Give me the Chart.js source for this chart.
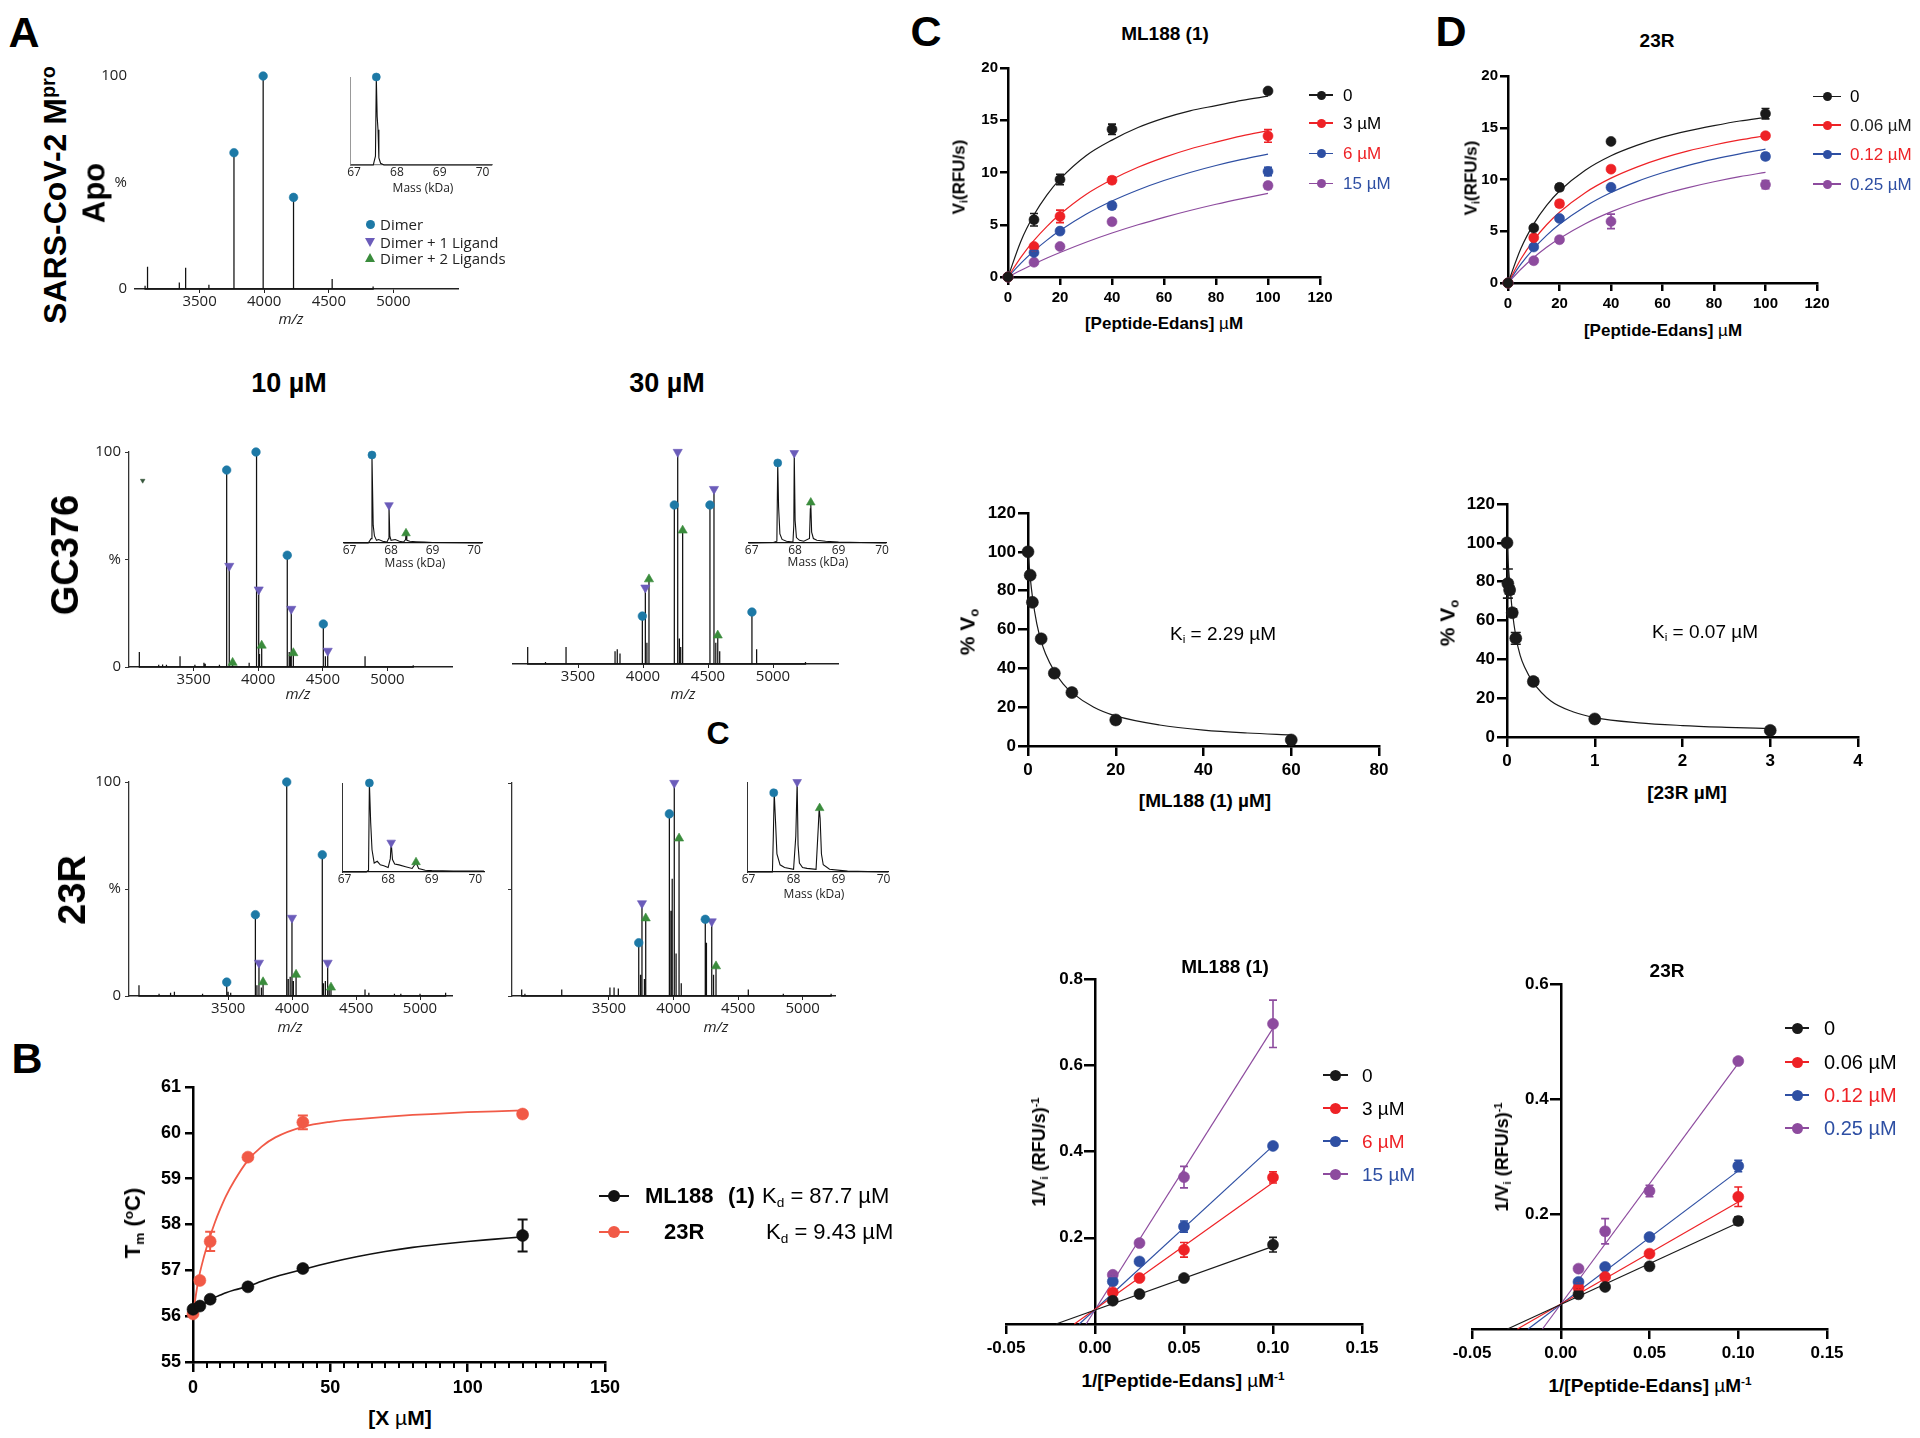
<!DOCTYPE html>
<html>
<head>
<meta charset="utf-8">
<title>Mpro binding figure</title>
<script src="https://cdn.jsdelivr.net/npm/chart.js@4.4.1/dist/chart.umd.min.js"></script>
<style>
html,body{margin:0;padding:0;background:#fff;}
#stage{position:relative;width:1920px;height:1438px;overflow:hidden;background:#fff;font-family:'Liberation Sans',Arial,sans-serif;color:#000;}
#stage canvas{position:absolute;}
.tc,.tl,.tv{position:absolute;white-space:nowrap;line-height:1;}
.tc{transform:translate(-50%,-50%);}
.tl{transform:translate(0,-50%);}
.tv{transform:translate(-50%,-50%) rotate(-90deg);}
.sh{position:absolute;}
sub{font-size:0.62em;vertical-align:-0.3em;line-height:0;}
sup{font-size:0.62em;vertical-align:0.55em;line-height:0;}
.ms{font-family:'Open Sans',sans-serif;color:#222;}
.u{font-weight:normal;}
</style>
</head>
<body>
<div id="stage"></div>
<script>
// ======================= DATA =======================
// ---- Panel A: native MS (m/z vs relative intensity %) ----
const msTickLabels = [3500, 4000, 4500, 5000];
const insetTickLabels = [67, 68, 69, 70];

const apoDimerMz = [3766, 3992, 4227];
const apoDimerInt = [64, 100, 43];
const apoMinorMz = [3078, 3097, 3343, 3392, 3572, 4526, 4843];
const apoMinorInt = [1.5, 10.5, 3, 10, 2, 4.7, 1.2];
const apoInsetMass = [66.92, 67.45, 67.5, 67.52, 67.54, 67.56, 67.58, 67.62, 67.7, 70.22];
const apoInsetInt = [0, 0, 10, 100, 55, 40, 8, 2, 0, 0];
const apoInsetDimerMass = [67.52];
const apoInsetDimerInt = [100];

const gc10DimerMz = [3756, 3983, 4225, 4504];
const gc10DimerInt = [91.6, 100, 52, 20];
const gc10Lig1Mz = [3776, 4004, 4256, 4538];
const gc10Lig1Int = [47, 36, 27, 7.5];
const gc10Lig2Mz = [3802, 4027, 4272];
const gc10Lig2Int = [2, 10, 6.5];
const gc10StrayMz = [3106];
const gc10StrayInt = [86.7];
const gc10MinorMz = [3080, 3230, 3260, 3290, 3395, 3510, 3580, 3590, 3700, 3930, 3990, 4010, 4240, 4250, 4520, 4827, 5200];
const gc10MinorInt = [7, 1, 1.2, 1, 5, 1, 2, 1.5, 1, 2, 8, 6, 7, 5, 5, 5, 0.8];
const gc10InsetMass = [66.86, 67.45, 67.52, 67.54, 67.555, 67.57, 67.6, 67.65, 67.7, 67.8, 67.9, 67.94, 67.95, 67.97, 68.0, 68.1, 68.2, 68.3, 68.35, 68.36, 68.38, 68.45, 68.6, 68.8, 69.0, 70.19];
const gc10InsetInt = [0, 0, 5, 100, 60, 20, 8, 3, 4, 2, 1, 5, 43, 8, 3, 4, 2, 1, 4, 11, 3, 2, 1.5, 1, 0.5, 0];
const gc10InsetMarkMass = [67.54, 67.95, 68.36];
const gc10InsetMarkInt = [100, 43, 11];

const gc30DimerMz = [3995, 4241, 4515, 4838];
const gc30DimerInt = [22.6, 75, 75, 24.5];
const gc30Lig1Mz = [4018, 4267, 4546];
const gc30Lig1Int = [36, 100, 82.5];
const gc30Lig2Mz = [4046, 4305, 4575];
const gc30Lig2Int = [40, 63, 13.5];
const gc30MinorMz = [3113, 3250, 3408, 3785, 3802, 3823, 4030, 4280, 4290, 4560, 4590, 4874, 5250];
const gc30MinorInt = [8, 1, 8, 6, 7, 5, 10, 12, 8, 10, 6, 7, 1];
const gc30InsetMass = [66.93, 67.5, 67.58, 67.6, 67.62, 67.65, 67.7, 67.8, 67.95, 67.97, 67.98, 68.0, 68.03, 68.1, 68.2, 68.33, 68.35, 68.36, 68.38, 68.42, 68.5, 68.7, 69.0, 69.5, 70.09];
const gc30InsetInt = [0, 0.5, 2, 89, 40, 10, 4, 2, 1, 20, 100, 25, 6, 3, 2, 5, 38, 45, 12, 5, 3, 2, 1, 0.5, 0];
const gc30InsetMarkMass = [67.6, 67.98, 68.36];
const gc30InsetMarkInt = [89, 100, 45];

const r10DimerMz = [3489, 3713, 3958, 4236];
const r10DimerInt = [6.5, 38, 100, 66];
const r10Lig1Mz = [3741, 3999, 4278];
const r10Lig1Int = [15.5, 36.5, 15.5];
const r10Lig2Mz = [3773, 4031, 4304];
const r10Lig2Int = [6.5, 10, 4];
const r10MinorMz = [2803, 2960, 3050, 3080, 3300, 3500, 3520, 3725, 3760, 3970, 3985, 4010, 4245, 4260, 4290, 4570, 4600, 4800, 4850, 5000, 5200];
const r10MinorInt = [5, 1, 1.5, 2, 1, 2, 1.5, 5, 4, 8, 9, 7, 6, 7, 3, 3, 1.5, 1, 1, 1, 1.5];
const r10InsetMass = [66.955, 67.5, 67.55, 67.57, 67.6, 67.63, 67.68, 67.75, 67.82, 67.9, 68.0, 68.05, 68.07, 68.1, 68.15, 68.25, 68.4, 68.55, 68.62, 68.64, 68.7, 68.85, 69.0, 69.5, 70.2];
const r10InsetInt = [0, 0, 2, 100, 55, 25, 10, 12, 8, 7, 5, 15, 33, 14, 9, 8, 6, 4, 9, 11, 4, 2, 1.5, 1.2, 1];
const r10InsetMarkMass = [67.57, 68.07, 68.64];
const r10InsetMarkInt = [100, 33, 11];

const r30DimerMz = [3731, 3968, 4246];
const r30DimerInt = [25, 85.5, 36];
const r30Lig1Mz = [3756, 4006, 4296];
const r30Lig1Int = [43.5, 100, 35];
const r30Lig2Mz = [3785, 4043, 4329];
const r30Lig2Int = [36.5, 74, 14];
const r30MinorMz = [2825, 2850, 3135, 3508, 3540, 3573, 3745, 3775, 3980, 3990, 4020, 4060, 4255, 4310, 4579, 4850, 5220];
const r30MinorInt = [3, 1, 3, 4, 4, 3.5, 10, 8, 40, 55, 20, 6, 25, 10, 3, 1, 1];
const r30InsetMass = [66.978, 67.53, 67.55, 67.57, 67.6, 67.63, 67.7, 67.8, 68.0, 68.05, 68.08, 68.1, 68.13, 68.2, 68.3, 68.5, 68.55, 68.57, 68.59, 68.62, 68.66, 68.8, 69.2, 70.1];
const r30InsetInt = [0, 0, 40, 88, 55, 20, 8, 5, 3, 40, 100, 30, 10, 5, 4, 3, 50, 71, 60, 20, 8, 3, 1, 0];
const r30InsetMarkMass = [67.56, 68.08, 68.58];
const r30InsetMarkInt = [88, 100, 71];

// ---- Panel B: thermal shift ----
const bXTicks = [0, 50, 100, 150];
const bYTicks = [55, 56, 57, 58, 59, 60, 61];
const bMinorTicks = [5,10,15,20,25,30,35,40,45,55,60,65,70,75,80,85,90,95,105,110,115,120,125,130,135,140,145];
const bConc = [0, 2.5, 6.25, 20, 40, 120];
const bTmML188 = [56.15, 56.22, 56.37, 56.64, 57.04, 57.76];
const bTmML188Err = [0, 0.03, 0.05, 0.05, 0.05, 0.35];
const bTm23R = [56.05, 56.78, 57.63, 59.47, 60.23, 60.41];
const bTm23RErr = [0, 0.05, 0.21, 0.05, 0.15, 0.05];
const bFitX = [0, 2, 4, 6, 8, 10, 12, 15, 20, 25, 30, 40, 50, 60, 70, 80, 90, 100, 110, 120];
const bFitML188 = [56.1, 56.19, 56.27, 56.34, 56.41, 56.46, 56.51, 56.57, 56.65, 56.76, 56.86, 57.02, 57.17, 57.3, 57.41, 57.5, 57.57, 57.63, 57.68, 57.73];
const bFit23R = [56.05, 56.8, 57.3, 57.7, 58.05, 58.35, 58.62, 58.95, 59.4, 59.7, 59.9, 60.13, 60.24, 60.3, 60.35, 60.39, 60.42, 60.45, 60.47, 60.49];

// ---- Panels C/D top: Michaelis–Menten ----
const mmXTicks = [0, 20, 40, 60, 80, 100, 120];
const mmYTicks = [0, 5, 10, 15, 20];
const mmConc = [0, 10, 20, 40, 100];
const cMM0 = [0, 5.48, 9.33, 14.13, 17.8];
const cMM0Err = [0, 0.6, 0.5, 0.5, 0.2];
const cMM3 = [0, 2.92, 5.8, 9.26, 13.5];
const cMM3Err = [0, 0.2, 0.6, 0.3, 0.6];
const cMM6 = [0, 2.34, 4.39, 6.83, 10.1];
const cMM6Err = [0, 0.2, 0.2, 0.3, 0.4];
const cMM15 = [0, 1.41, 2.92, 5.29, 8.75];
const cMM15Err = [0, 0.1, 0.2, 0.2, 0.3];
const mmFitX = [0, 5, 10, 15, 20, 30, 40, 50, 60, 70, 80, 90, 100];
const cFit0 = [0, 3.45, 5.95, 7.86, 9.36, 11.6, 13.1, 14.3, 15.2, 15.9, 16.4, 16.9, 17.3];
const cFit3 = [0, 1.9, 3.5, 4.85, 6.0, 7.9, 9.33, 10.5, 11.45, 12.25, 12.9, 13.5, 14.0];
const cFit6 = [0, 1.33, 2.5, 3.53, 4.44, 6.0, 7.27, 8.33, 9.23, 10.0, 10.67, 11.25, 11.76];
const cFit15 = [0, 0.65, 1.25, 1.82, 2.35, 3.33, 4.21, 5.0, 5.71, 6.36, 6.96, 7.5, 8.0];
const dMM0 = [0, 5.31, 9.24, 13.68, 16.36];
const dMM0Err = [0, 0.2, 0.3, 0.2, 0.5];
const dMM006 = [0, 4.38, 7.66, 11.0, 14.23];
const dMM006Err = [0, 0.2, 0.3, 0.2, 0.2];
const dMM012 = [0, 3.48, 6.24, 9.24, 12.23];
const dMM012Err = [0, 0.2, 0.2, 0.2, 0.3];
const dMM025 = [0, 2.15, 4.18, 5.95, 9.5];
const dMM025Err = [0, 0.15, 0.2, 0.7, 0.4];
const dFit0 = [0, 3.33, 5.71, 7.5, 8.89, 10.9, 12.3, 13.3, 14.1, 14.7, 15.2, 15.65, 16.0];
const dFit006 = [0, 2.32, 4.15, 5.63, 6.84, 8.73, 10.13, 11.2, 12.06, 12.76, 13.33, 13.82, 14.23];
const dFit012 = [0, 1.83, 3.33, 4.6, 5.67, 7.4, 8.74, 9.8, 10.65, 11.37, 11.97, 12.48, 12.93];
const dFit025 = [0, 1.33, 2.46, 3.45, 4.3, 5.73, 6.87, 7.8, 8.57, 9.22, 9.78, 10.27, 10.69];

// ---- Panels C/D middle: % Vo vs inhibitor ----
const pctYTicks = [0, 20, 40, 60, 80, 100, 120];
const cInhXTicks = [0, 20, 40, 60, 80];
const cInhConc = [0, 0.5, 1, 3, 6, 10, 20, 60];
const cInhPct = [100, 88, 74, 55.2, 37.5, 27.5, 13.4, 3.1];
const cInhFitX = [0, 0.5, 1, 2, 3, 4, 6, 8, 10, 15, 20, 30, 40, 50, 60];
const cInhFitY = [100, 87, 77, 63, 54, 47.5, 38.5, 32, 27.5, 20, 15.5, 10.8, 8.2, 6.7, 5.7];
const dInhXTicks = [0, 1, 2, 3, 4];
const dInhConc = [0, 0.01, 0.03, 0.06, 0.1, 0.3, 1, 3];
const dInhPct = [100, 79, 75.7, 64, 50.8, 28.6, 9.3, 3.4];
const dInhErr = [0, 7.5, 2, 2, 3, 1.5, 1, 0.5];
const dInhFitX = [0, 0.01, 0.03, 0.06, 0.1, 0.15, 0.2, 0.3, 0.5, 0.75, 1, 1.5, 2, 2.5, 3];
const dInhFitY = [100, 92, 80, 65, 52, 42, 36, 28, 18.5, 13, 10, 7.3, 5.9, 5, 4.3];

// ---- Panels C/D bottom: Lineweaver–Burk ----
const lbXTicks = [-0.05, 0, 0.05, 0.1, 0.15];
const cLbYTicks = [0, 0.2, 0.4, 0.6, 0.8];
const dLbYTicks = [0, 0.2, 0.4, 0.6];
const lbInvS = [0.01, 0.025, 0.05, 0.1];
const cLb0 = [0.054, 0.0695, 0.1066, 0.1838];
const cLb0Err = [0.003, 0.003, 0.004, 0.017];
const cLb3 = [0.0733, 0.1066, 0.172, 0.34];
const cLb3Err = [0.003, 0.004, 0.017, 0.013];
const cLb6 = [0.0988, 0.145, 0.226, 0.413];
const cLb6Err = [0.003, 0.004, 0.013, 0.005];
const cLb15 = [0.114, 0.1877, 0.3406, 0.696];
const cLb15Err = [0.004, 0.004, 0.025, 0.055];
const cLbLine0X = [-0.0219, 0.1], cLbLine0Y = [0, 0.18];
const cLbLine3X = [-0.0116, 0.1], cLbLine3Y = [0, 0.328];
const cLbLine6X = [-0.0088, 0.1], cLbLine6Y = [0, 0.413];
const cLbLine15X = [-0.005, 0.1], cLbLine15Y = [0, 0.686];
const dLb0 = [0.0604, 0.0732, 0.109, 0.188];
const dLb0Err = [0.003, 0.003, 0.003, 0.007];
const dLb006 = [0.0714, 0.0906, 0.131, 0.23];
const dLb006Err = [0.003, 0.003, 0.003, 0.017];
const dLb012 = [0.0819, 0.108, 0.16, 0.2835];
const dLb012Err = [0.003, 0.003, 0.004, 0.01];
const dLb025 = [0.105, 0.17, 0.24, 0.466];
const dLb025Err = [0.004, 0.022, 0.01, 0.003];
const dLbLine0X = [-0.03, 0.1], dLbLine0Y = [0, 0.1847];
const dLbLine006X = [-0.0244, 0.1], dLbLine006Y = [0, 0.221];
const dLbLine012X = [-0.0184, 0.1], dLbLine012Y = [0, 0.275];
const dLbLine025X = [-0.0103, 0.1], dLbLine025Y = [0, 0.462];

// ======================= STYLE =======================
const TEAL = '#1d79a6', PURP = '#6b5cba', GREEN = '#3a8c3c';
const BLK = '#1a1a1a', RED = '#ee2226', BLUE = '#2e4fa3', VIO = '#8d4b9e';
const B_RED = '#f15a47';
const LS = "'Liberation Sans', Arial, sans-serif";
const OS = "'Open Sans', sans-serif";

Chart.defaults.font.family = LS;
Chart.defaults.color = '#000';

const errPlugin = {
  id: 'errbars',
  afterDatasetsDraw(chart) {
    const ctx = chart.ctx, ys = chart.scales.y;
    chart.data.datasets.forEach((ds, i) => {
      if (!ds.errorBars) return;
      const meta = chart.getDatasetMeta(i);
      ctx.save();
      ctx.strokeStyle = ds.pointBackgroundColor;
      ctx.lineWidth = ds.errWidth || 1.6;
      meta.data.forEach((pt, j) => {
        const e = ds.errorBars[j];
        if (!e) return;
        const v = ds.data[j].y;
        const y1 = ys.getPixelForValue(v + e), y2 = ys.getPixelForValue(v - e);
        const x = pt.x, w = ds.capW || 4;
        ctx.beginPath();
        ctx.moveTo(x, y1); ctx.lineTo(x, y2);
        ctx.moveTo(x - w, y1); ctx.lineTo(x + w, y1);
        ctx.moveTo(x - w, y2); ctx.lineTo(x + w, y2);
        ctx.stroke();
      });
      ctx.restore();
    });
  }
};
const minorPlugin = {
  id: 'minorTicks',
  afterDraw(chart, args, opts) {
    if (!opts || !opts.values) return;
    const xs = chart.scales.x, ctx = chart.ctx, y0 = chart.chartArea.bottom;
    ctx.save();
    ctx.strokeStyle = '#000';
    ctx.lineWidth = opts.width || 2;
    opts.values.forEach(v => {
      const x = Math.round(xs.getPixelForValue(v));
      ctx.beginPath(); ctx.moveTo(x, y0); ctx.lineTo(x, y0 + opts.length); ctx.stroke();
    });
    ctx.restore();
  }
};
// shifts tick labels of an axis that sits inside the plot (position {x: 0})
const yShiftPlugin = {
  id: 'yLabelShift',
  beforeDraw(chart, args, opts) {
    if (!opts || !opts.dx) return;
    const items = chart.scales.y.getLabelItems();
    items.forEach(it => {
      if (!it._shifted && it.options && it.options.translation) {
        it.options.translation[0] += opts.dx;
        it._shifted = true;
      }
    });
  }
};
Chart.register(errPlugin, minorPlugin, yShiftPlugin);

const stage = document.getElementById('stage');
const F = (size, weight, family) => ({size: size, weight: weight || 'normal', family: family || LS});
const P = (xs, ys) => xs.map((x, i) => ({x: x, y: ys[i]}));
function sticks(groups) {
  const all = [];
  groups.forEach(g => g[0].forEach((x, i) => all.push([x, g[1][i]])));
  all.sort((a, b) => a[0] - b[0]);
  const out = [];
  all.forEach(p => { out.push({x: p[0], y: 0}, {x: p[0], y: p[1]}, {x: p[0], y: 0}); });
  return out;
}
function mk(pts, style, color, r, rot, err) {
  const d = {data: pts, showLine: false, pointStyle: style, pointRotation: rot || 0, pointRadius: r,
    pointBackgroundColor: color, pointBorderColor: color, pointBorderWidth: 0.6, clip: false};
  if (err) d.errorBars = err;
  return d;
}
function ln(pts, color, w, smooth) {
  const d = {data: pts, showLine: true, borderColor: color, borderWidth: w, pointRadius: 0, tension: 0, clip: false, fill: false};
  if (smooth) d.cubicInterpolationMode = 'monotone';
  return d;
}
function ax(o) {
  const a = {
    type: 'linear', min: o.min, max: o.max,
    afterBuildTicks: s => { s.ticks = o.ticks.map(v => ({value: v})); },
    ticks: {display: o.labels !== false, autoSkip: false, maxRotation: 0, minRotation: 0, padding: o.pad || 0,
      color: o.color || '#000', font: o.font || F(12), callback: o.fmt || (v => String(v))},
    grid: {display: o.tl > 0, drawOnChartArea: false, drawTicks: o.tl > 0, tickLength: o.tl, color: o.lc || '#000', lineWidth: o.lw},
    border: {display: o.border !== false, color: o.lc || '#000', width: o.bw || o.lw}
  };
  if (o.tickColor) a.grid.tickColor = o.tickColor;
  if (o.position) a.position = o.position;
  if (o.dash) a.border.dash = o.dash;
  return a;
}
function makeChart(area, pad, datasets, scales, plugins) {
  const W = Math.round(area.r - area.l + pad.l + pad.r), H = Math.round(area.b - area.t + pad.t + pad.b);
  const c = document.createElement('canvas');
  c.width = W; c.height = H;
  c.style.left = (area.l - pad.l) + 'px'; c.style.top = (area.t - pad.t) + 'px';
  c.style.width = W + 'px'; c.style.height = H + 'px';
  stage.appendChild(c);
  const free = scales.y.position && typeof scales.y.position === 'object';
  scales.x.afterFit = s => { s.height = pad.b; s.paddingLeft = 0; s.paddingRight = 0; s.paddingTop = 0; s.paddingBottom = 0; };
  scales.y.afterFit = s => { if (!free) s.width = pad.l; s.paddingTop = 0; s.paddingBottom = 0; s.paddingLeft = 0; s.paddingRight = 0; };
  const pl = Object.assign({legend: {display: false}, tooltip: {enabled: false}}, plugins || {});
  return new Chart(c, {
    type: 'scatter',
    data: {datasets: datasets},
    options: {
      responsive: false, animation: false, devicePixelRatio: 1, events: [],
      layout: {padding: {left: free ? pad.l : 0, top: pad.t, right: pad.r, bottom: 0}},
      plugins: pl,
      scales: scales
    }
  });
}

// ---------- text helpers ----------
function T(html, x, y, css, mode, cls) {
  const d = document.createElement('div');
  d.className = (mode === 'l' ? 'tl' : mode === 'v' ? 'tv' : 'tc') + (cls ? ' ' + cls : '');
  d.innerHTML = html;
  d.style.left = x + 'px'; d.style.top = y + 'px';
  Object.assign(d.style, css || {});
  stage.appendChild(d);
}
function S(css) {
  const d = document.createElement('div');
  d.className = 'sh';
  Object.assign(d.style, css);
  stage.appendChild(d);
}
function legendRow(x0, x1, cx, cy, color, r, lw, html, tcolor, tx, size) {
  S({left: x0 + 'px', top: (cy - lw / 2) + 'px', width: (x1 - x0) + 'px', height: lw + 'px', background: color});
  S({left: (cx - r) + 'px', top: (cy - r) + 'px', width: 2 * r + 'px', height: 2 * r + 'px', borderRadius: '50%', background: color});
  if (html) T(html, tx, cy, {fontSize: size + 'px', color: tcolor}, 'l');
}

// ======================= PANEL A =======================
function msChart(area, xmin, xmax, yLine, yLabels, groups, markers) {
  const ds = markers.map(m => mk(P(m[0], m[1]), m[2], m[3], m[4], m[5]));
  ds.push(ln(sticks(groups), '#111', 1.25));
  makeChart(area, {l: 45, r: 6, t: 10, b: 28}, ds, {
    x: ax({min: xmin, max: xmax, ticks: msTickLabels, tl: 4, pad: 0, lw: 1, bw: 1.5, lc: '#222', color: '#222', font: F(15, 'normal', OS)}),
    y: ax({min: 0, max: 100, ticks: [0, 50, 100], tl: yLine ? 4 : 0, pad: yLine ? 4 : 8, lw: 1, bw: 1.3, lc: '#333', color: '#222',
      labels: yLabels, border: yLine, font: F(15, 'normal', OS), fmt: v => v === 50 ? '%' : String(v)})
  });
}
function inChart(area, xmin, xmax, yLine, yColor, baseColor, baseDash, mass, inten, markers) {
  const ds = markers.map(m => mk(P(m[0], m[1]), m[2], m[3], m[4], m[5]));
  ds.push(ln(P(mass, inten), '#111', 1.1));
  makeChart(area, {l: 4, r: 12, t: 8, b: 16}, ds, {
    x: ax({min: xmin, max: xmax, ticks: insetTickLabels, tl: 0, pad: 0, lw: 1, bw: 1.3, lc: baseColor, color: '#222', font: F(12, 'normal', OS), dash: baseDash}),
    y: ax({min: 0, max: 100, ticks: [0, 100], tl: 0, pad: 0, lw: 1, bw: 1, lc: yColor, labels: false, border: yLine})
  });
}

msChart({l: 135, r: 458, t: 76, b: 289}, 3000, 5500, false, true,
  [[apoDimerMz, apoDimerInt], [apoMinorMz, apoMinorInt]],
  [[apoDimerMz, apoDimerInt, 'circle', TEAL, 4.3, 0]]);
msChart({l: 129, r: 452, t: 452, b: 667}, 3000, 5500, true, true,
  [[gc10DimerMz, gc10DimerInt], [gc10Lig1Mz, gc10Lig1Int], [gc10Lig2Mz, gc10Lig2Int], [gc10MinorMz, gc10MinorInt]],
  [[gc10DimerMz, gc10DimerInt, 'circle', TEAL, 4.3, 0], [gc10Lig1Mz, gc10Lig1Int, 'triangle', PURP, 5.3, 180],
   [gc10Lig2Mz, gc10Lig2Int, 'triangle', GREEN, 5.3, 0], [gc10StrayMz, gc10StrayInt, 'triangle', '#35553a', 2.6, 180]]);
msChart({l: 513, r: 838, t: 452, b: 664}, 3000, 5500, false, false,
  [[gc30DimerMz, gc30DimerInt], [gc30Lig1Mz, gc30Lig1Int], [gc30Lig2Mz, gc30Lig2Int], [gc30MinorMz, gc30MinorInt]],
  [[gc30DimerMz, gc30DimerInt, 'circle', TEAL, 4.3, 0], [gc30Lig1Mz, gc30Lig1Int, 'triangle', PURP, 5.3, 180],
   [gc30Lig2Mz, gc30Lig2Int, 'triangle', GREEN, 5.3, 0]]);
msChart({l: 129, r: 452, t: 782, b: 996}, 2725, 5250, true, true,
  [[r10DimerMz, r10DimerInt], [r10Lig1Mz, r10Lig1Int], [r10Lig2Mz, r10Lig2Int], [r10MinorMz, r10MinorInt]],
  [[r10DimerMz, r10DimerInt, 'circle', TEAL, 4.3, 0], [r10Lig1Mz, r10Lig1Int, 'triangle', PURP, 5.3, 180],
   [r10Lig2Mz, r10Lig2Int, 'triangle', GREEN, 5.3, 0]]);
msChart({l: 512, r: 835, t: 783, b: 996}, 2750, 5250, true, false,
  [[r30DimerMz, r30DimerInt], [r30Lig1Mz, r30Lig1Int], [r30Lig2Mz, r30Lig2Int], [r30MinorMz, r30MinorInt]],
  [[r30DimerMz, r30DimerInt, 'circle', TEAL, 4.3, 0], [r30Lig1Mz, r30Lig1Int, 'triangle', PURP, 5.3, 180],
   [r30Lig2Mz, r30Lig2Int, 'triangle', GREEN, 5.3, 0]]);

inChart({l: 350, r: 492, t: 77, b: 165}, 66.92, 70.22, true, '#999', '#888', [3, 3], apoInsetMass, apoInsetInt,
  [[apoInsetDimerMass, apoInsetDimerInt, 'circle', TEAL, 4, 0]]);
inChart({l: 342, r: 482, t: 455, b: 543}, 66.857, 70.19, false, '#333', '#111', null, gc10InsetMass, gc10InsetInt,
  [[gc10InsetMarkMass.slice(0, 1), gc10InsetMarkInt.slice(0, 1), 'circle', TEAL, 4, 0],
   [gc10InsetMarkMass.slice(1, 2), gc10InsetMarkInt.slice(1, 2), 'triangle', PURP, 5, 180],
   [gc10InsetMarkMass.slice(2, 3), gc10InsetMarkInt.slice(2, 3), 'triangle', GREEN, 5, 0]]);
inChart({l: 747, r: 886, t: 453, b: 543}, 66.93, 70.09, false, '#333', '#111', null, gc30InsetMass, gc30InsetInt,
  [[gc30InsetMarkMass.slice(0, 1), gc30InsetMarkInt.slice(0, 1), 'circle', TEAL, 4, 0],
   [gc30InsetMarkMass.slice(1, 2), gc30InsetMarkInt.slice(1, 2), 'triangle', PURP, 5, 180],
   [gc30InsetMarkMass.slice(2, 3), gc30InsetMarkInt.slice(2, 3), 'triangle', GREEN, 5, 0]]);
inChart({l: 341, r: 484, t: 783, b: 872}, 66.955, 70.2, true, '#333', '#111', null, r10InsetMass, r10InsetInt,
  [[r10InsetMarkMass.slice(0, 1), r10InsetMarkInt.slice(0, 1), 'circle', TEAL, 4, 0],
   [r10InsetMarkMass.slice(1, 2), r10InsetMarkInt.slice(1, 2), 'triangle', PURP, 5, 180],
   [r10InsetMarkMass.slice(2, 3), r10InsetMarkInt.slice(2, 3), 'triangle', GREEN, 5, 0]]);
inChart({l: 746, r: 888, t: 782, b: 872}, 66.978, 70.1, true, '#333', '#111', null, r30InsetMass, r30InsetInt,
  [[r30InsetMarkMass.slice(0, 1), r30InsetMarkInt.slice(0, 1), 'circle', TEAL, 4, 0],
   [r30InsetMarkMass.slice(1, 2), r30InsetMarkInt.slice(1, 2), 'triangle', PURP, 5, 180],
   [r30InsetMarkMass.slice(2, 3), r30InsetMarkInt.slice(2, 3), 'triangle', GREEN, 5, 0]]);

// Panel A texts
const BIG = {fontWeight: 'bold', fontSize: '43px'};
T('A', 24, 32, BIG);
T('SARS-CoV-2 M<sup>pro</sup>', 55, 195, {fontWeight: 'bold', fontSize: '32px'}, 'v');
T('Apo', 94, 193, {fontWeight: 'bold', fontSize: '31px'}, 'v');
T('GC376', 65, 555, {fontWeight: 'bold', fontSize: '38px'}, 'v');
T('23R', 72, 890, {fontWeight: 'bold', fontSize: '38px'}, 'v');
T('10 µM', 289, 383, {fontWeight: 'bold', fontSize: '27px'});
T('30 µM', 667, 383, {fontWeight: 'bold', fontSize: '27px'});
T('C', 718, 733, {fontWeight: 'bold', fontSize: '32px'});
const MZ = {fontStyle: 'italic', fontSize: '15px'};
T('m/z', 291, 318, MZ, 'c', 'ms');
T('m/z', 298, 693, MZ, 'c', 'ms');
T('m/z', 683, 693, MZ, 'c', 'ms');
T('m/z', 290, 1026, MZ, 'c', 'ms');
T('m/z', 716, 1026, MZ, 'c', 'ms');
const MASS = {fontSize: '12px'};
T('Mass (kDa)', 423, 188, MASS, 'c', 'ms');
T('Mass (kDa)', 415, 563, MASS, 'c', 'ms');
T('Mass (kDa)', 818, 562, MASS, 'c', 'ms');
T('Mass (kDa)', 814, 894, MASS, 'c', 'ms');
// MS legend
S({left: '365.5px', top: '219.5px', width: '9px', height: '9px', borderRadius: '50%', background: TEAL});
S({left: '365px', top: '238px', width: '0', height: '0', borderLeft: '5px solid transparent', borderRight: '5px solid transparent', borderTop: '9px solid ' + PURP});
S({left: '365px', top: '253px', width: '0', height: '0', borderLeft: '5px solid transparent', borderRight: '5px solid transparent', borderBottom: '9px solid ' + GREEN});
T('Dimer', 380, 224, {fontSize: '15px'}, 'l', 'ms');
T('Dimer + 1 Ligand', 380, 242, {fontSize: '15px'}, 'l', 'ms');
T('Dimer + 2 Ligands', 380, 258, {fontSize: '15px'}, 'l', 'ms');

// ======================= PANEL B =======================
makeChart({l: 193, r: 605, t: 1087, b: 1362}, {l: 50, r: 30, t: 12, b: 40}, [
  Object.assign(mk(P(bConc, bTmML188), 'circle', '#111', 6, 0, bTmML188Err), {capW: 5, errWidth: 2}),
  Object.assign(mk(P(bConc, bTm23R), 'circle', B_RED, 6, 0, bTm23RErr), {capW: 5, errWidth: 2}),
  ln(P(bFitX, bFitML188), '#111', 1.6, true),
  ln(P(bFitX, bFit23R), B_RED, 1.8, true)
], {
  x: ax({min: 0, max: 150, ticks: bXTicks, tl: 10, pad: 5, lw: 2.5, font: F(18, 'bold')}),
  y: ax({min: 55, max: 61, ticks: bYTicks, tl: 8, pad: 4, lw: 2.5, font: F(18, 'bold')})
}, {minorTicks: {values: bMinorTicks, length: 6, width: 2}});
T('B', 27, 1058, BIG);
T('T<sub>m</sub> (<sup>o</sup>C)', 133, 1223, {fontWeight: 'bold', fontSize: '22px'}, 'v');
T('[X <span class="u">µ</span>M]', 400, 1417, {fontWeight: 'bold', fontSize: '21px'});
legendRow(599, 629, 614, 1196, '#111', 6, 2, '', '#000', 645, 22);
T('ML188', 645, 1196, {fontWeight: 'bold', fontSize: '22px'}, 'l');
T('(1)', 728, 1196, {fontWeight: 'bold', fontSize: '22px'}, 'l');
T('K<sub>d</sub> = 87.7 µM', 762, 1196, {fontSize: '22px'}, 'l');
legendRow(599, 629, 614, 1232, B_RED, 6, 2, '', '#000', 645, 22);
T('23R', 664, 1232, {fontWeight: 'bold', fontSize: '22px'}, 'l');
T('K<sub>d</sub> = 9.43 µM', 766, 1232, {fontSize: '22px'}, 'l');

// ======================= PANELS C / D =======================
const topScales = () => ({
  x: ax({min: 0, max: 120, ticks: mmXTicks, tl: 8, pad: 4, lw: 2.5, font: F(15, 'bold')}),
  y: ax({min: 0, max: 20, ticks: mmYTicks, tl: 8, pad: 2, lw: 2.5, font: F(15, 'bold')})
});
makeChart({l: 1008, r: 1320, t: 68, b: 277}, {l: 45, r: 25, t: 8, b: 35}, [
  mk(P(mmConc, cMM0), 'circle', BLK, 5, 0, cMM0Err),
  mk(P(mmConc, cMM3), 'circle', RED, 5, 0, cMM3Err),
  mk(P(mmConc, cMM6), 'circle', BLUE, 5, 0, cMM6Err),
  mk(P(mmConc, cMM15), 'circle', VIO, 5, 0, cMM15Err),
  ln(P(mmFitX, cFit0), BLK, 1.2, true),
  ln(P(mmFitX, cFit3), RED, 1.2, true),
  ln(P(mmFitX, cFit6), BLUE, 1.2, true),
  ln(P(mmFitX, cFit15), VIO, 1.2, true)
], topScales());
makeChart({l: 1508, r: 1817, t: 76, b: 283}, {l: 45, r: 25, t: 8, b: 35}, [
  mk(P(mmConc, dMM0), 'circle', BLK, 5, 0, dMM0Err),
  mk(P(mmConc, dMM006), 'circle', RED, 5, 0, dMM006Err),
  mk(P(mmConc, dMM012), 'circle', BLUE, 5, 0, dMM012Err),
  mk(P(mmConc, dMM025), 'circle', VIO, 5, 0, dMM025Err),
  ln(P(mmFitX, dFit0), BLK, 1.2, true),
  ln(P(mmFitX, dFit006), RED, 1.2, true),
  ln(P(mmFitX, dFit012), BLUE, 1.2, true),
  ln(P(mmFitX, dFit025), VIO, 1.2, true)
], topScales());

makeChart({l: 1028, r: 1379, t: 513, b: 746}, {l: 50, r: 20, t: 10, b: 35}, [
  mk(P(cInhConc, cInhPct), 'circle', BLK, 6),
  ln(P(cInhFitX, cInhFitY), BLK, 1.2, true)
], {
  x: ax({min: 0, max: 80, ticks: cInhXTicks, tl: 10, pad: 4, lw: 2.5, font: F(17, 'bold')}),
  y: ax({min: 0, max: 120, ticks: pctYTicks, tl: 10, pad: 2, lw: 2.5, font: F(17, 'bold')})
});
makeChart({l: 1507, r: 1858, t: 504, b: 737}, {l: 50, r: 20, t: 10, b: 35}, [
  Object.assign(mk(P(dInhConc, dInhPct), 'circle', BLK, 6, 0, dInhErr), {capW: 5}),
  ln(P(dInhFitX, dInhFitY), BLK, 1.2, true)
], {
  x: ax({min: 0, max: 4, ticks: dInhXTicks, tl: 10, pad: 4, lw: 2.5, font: F(17, 'bold')}),
  y: ax({min: 0, max: 120, ticks: pctYTicks, tl: 10, pad: 2, lw: 2.5, font: F(17, 'bold')})
});

const hide0 = ctx => (ctx.tick && ctx.tick.value === 0) ? 'rgba(0,0,0,0)' : '#000';
makeChart({l: 1006, r: 1362, t: 979, b: 1324}, {l: 30, r: 30, t: 12, b: 38}, [
  mk(P(lbInvS, cLb0), 'circle', BLK, 5.5, 0, cLb0Err),
  mk(P(lbInvS, cLb3), 'circle', RED, 5.5, 0, cLb3Err),
  mk(P(lbInvS, cLb6), 'circle', BLUE, 5.5, 0, cLb6Err),
  mk(P(lbInvS, cLb15), 'circle', VIO, 5.5, 0, cLb15Err),
  ln(P(cLbLine0X, cLbLine0Y), BLK, 1.2),
  ln(P(cLbLine3X, cLbLine3Y), RED, 1.2),
  ln(P(cLbLine6X, cLbLine6Y), BLUE, 1.2),
  ln(P(cLbLine15X, cLbLine15Y), VIO, 1.2)
], {
  x: ax({min: -0.05, max: 0.15, ticks: lbXTicks, tl: 10, pad: 4, lw: 2.5, font: F(17, 'bold'), fmt: v => v.toFixed(2)}),
  y: ax({min: 0, max: 0.8, ticks: cLbYTicks, tl: 10, pad: 2, lw: 2.5, font: F(17, 'bold'), position: {x: 0},
    tickColor: hide0, fmt: v => v === 0 ? '' : v.toFixed(1)})
}, {yLabelShift: {dx: -12}});
makeChart({l: 1472, r: 1827, t: 984, b: 1329}, {l: 30, r: 30, t: 12, b: 38}, [
  mk(P(lbInvS, dLb0), 'circle', BLK, 5.5, 0, dLb0Err),
  mk(P(lbInvS, dLb006), 'circle', RED, 5.5, 0, dLb006Err),
  mk(P(lbInvS, dLb012), 'circle', BLUE, 5.5, 0, dLb012Err),
  mk(P(lbInvS, dLb025), 'circle', VIO, 5.5, 0, dLb025Err),
  ln(P(dLbLine0X, dLbLine0Y), BLK, 1.2),
  ln(P(dLbLine006X, dLbLine006Y), RED, 1.2),
  ln(P(dLbLine012X, dLbLine012Y), BLUE, 1.2),
  ln(P(dLbLine025X, dLbLine025Y), VIO, 1.2)
], {
  x: ax({min: -0.05, max: 0.15, ticks: lbXTicks, tl: 10, pad: 4, lw: 2.5, font: F(17, 'bold'), fmt: v => v.toFixed(2)}),
  y: ax({min: 0, max: 0.6, ticks: dLbYTicks, tl: 10, pad: 2, lw: 2.5, font: F(17, 'bold'), position: {x: 0},
    tickColor: hide0, fmt: v => v === 0 ? '' : v.toFixed(1)})
}, {yLabelShift: {dx: -12}});

// C/D texts
T('C', 926, 31, BIG);
T('D', 1451, 31, BIG);
const TTL = {fontWeight: 'bold', fontSize: '19px'};
T('ML188 (1)', 1165, 33, TTL);
T('23R', 1657, 40, TTL);
T('ML188 (1)', 1225, 966, TTL);
T('23R', 1667, 970, TTL);
const AX17 = {fontWeight: 'bold', fontSize: '17px'};
T('V<sub>i</sub>(RFU/s)', 959, 177, AX17, 'v');
T('V<sub>i</sub>(RFU/s)', 1471, 178, AX17, 'v');
T('[Peptide-Edans] <span class="u">µ</span>M', 1164, 323, AX17);
T('[Peptide-Edans] <span class="u">µ</span>M', 1663, 330, AX17);
T('% V<sub>o</sub>', 967, 632, {fontWeight: 'bold', fontSize: '21px'}, 'v');
T('% V<sub>o</sub>', 1447, 623, {fontWeight: 'bold', fontSize: '21px'}, 'v');
T('[ML188 (1) µM]', 1205, 800, {fontWeight: 'bold', fontSize: '19px'});
T('[23R µM]', 1687, 792, {fontWeight: 'bold', fontSize: '19px'});
T('K<sub>i</sub> = 2.29 µM', 1170, 633, {fontSize: '19px'}, 'l');
T('K<sub>i</sub> = 0.07 µM', 1652, 631, {fontSize: '19px'}, 'l');
T('1/V<sub>i</sub> (RFU/s)<sup>-1</sup>', 1039, 1152, {fontWeight: 'bold', fontSize: '18px'}, 'v');
T('1/V<sub>i</sub> (RFU/s)<sup>-1</sup>', 1502, 1157, {fontWeight: 'bold', fontSize: '18px'}, 'v');
T('1/[Peptide-Edans] <span class="u">µ</span>M<sup>-1</sup>', 1183, 1380, {fontWeight: 'bold', fontSize: '19px'});
T('1/[Peptide-Edans] <span class="u">µ</span>M<sup>-1</sup>', 1650, 1385, {fontWeight: 'bold', fontSize: '19px'});

// legends C/D top
const cTopRows = [95, 123, 153, 183];
legendRow(1309, 1333, 1321, cTopRows[0], BLK, 4.5, 1.5, '0', '#000', 1343, 17);
legendRow(1309, 1333, 1321, cTopRows[1], RED, 4.5, 1.5, '3 µM', '#000', 1343, 17);
legendRow(1309, 1333, 1321, cTopRows[2], BLUE, 4.5, 1, '6 µM', RED, 1343, 17);
legendRow(1309, 1333, 1321, cTopRows[3], VIO, 4.5, 1, '15 µM', BLUE, 1343, 17);
const dTopRows = [96, 125, 154, 184];
legendRow(1813, 1841, 1827, dTopRows[0], BLK, 4.5, 1, '0', '#000', 1850, 17);
legendRow(1813, 1841, 1827, dTopRows[1], RED, 4.5, 1.5, '0.06 µM', '#222', 1850, 17);
legendRow(1813, 1841, 1827, dTopRows[2], BLUE, 4.5, 1.5, '0.12 µM', RED, 1850, 17);
legendRow(1813, 1841, 1827, dTopRows[3], VIO, 4.5, 1.5, '0.25 µM', BLUE, 1850, 17);
// legends C/D bottom
const cBotRows = [1075, 1108, 1141, 1174];
legendRow(1323, 1348, 1335, cBotRows[0], BLK, 5.5, 1.5, '0', '#000', 1362, 19);
legendRow(1323, 1348, 1335, cBotRows[1], RED, 5.5, 1.5, '3 µM', '#000', 1362, 19);
legendRow(1323, 1348, 1335, cBotRows[2], BLUE, 5.5, 1.5, '6 µM', RED, 1362, 19);
legendRow(1323, 1348, 1335, cBotRows[3], VIO, 5.5, 1.5, '15 µM', BLUE, 1362, 19);
const dBotRows = [1028, 1062, 1095, 1128];
legendRow(1785, 1809, 1797, dBotRows[0], BLK, 5.5, 1.5, '0', '#000', 1824, 20);
legendRow(1785, 1809, 1797, dBotRows[1], RED, 5.5, 1.5, '0.06 µM', '#000', 1824, 20);
legendRow(1785, 1809, 1797, dBotRows[2], BLUE, 5.5, 1.5, '0.12 µM', RED, 1824, 20);
legendRow(1785, 1809, 1797, dBotRows[3], VIO, 5.5, 1.5, '0.25 µM', BLUE, 1824, 20);
</script>
</body>
</html>
